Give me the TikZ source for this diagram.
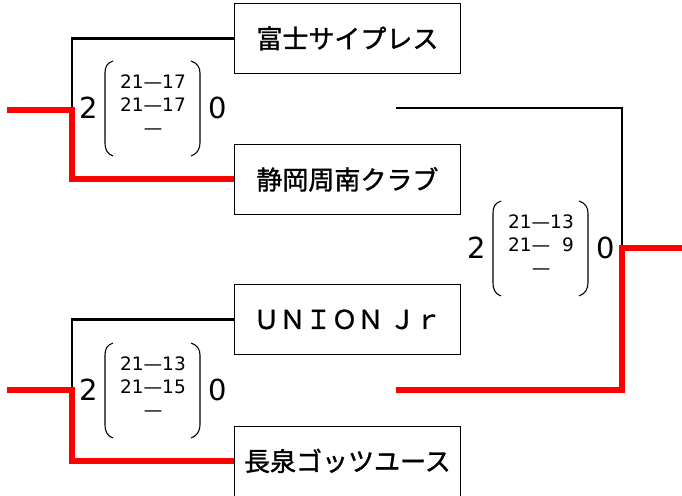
\documentclass[tikz,border=0pt]{standalone}
\usepackage{fontspec}
\setmainfont{DejaVu Sans}
\newfontfamily\jp[AutoFakeBold=1.3]{Noto Sans CJK JP}
\newcommand\scoreblock[5]{% name, x0, cy, line1, line2
  \node[big] (#1w) at (#2-16,#3) {2};
  \node[big] (#1l) at (#2+113,#3) {0};
  \node[sc] (#1s) at (#2+48,#3-3) {#4\\#5\\—};
  \draw[paren] (#2+8,#3-47) .. controls (#2+2,#3-45) and (#2,#3-41) .. (#2,#3-35)
     -- (#2,#3+35) .. controls (#2,#3+41) and (#2+2,#3+46) .. (#2+8,#3+48);
  \draw[paren] (#2+86,#3-47) .. controls (#2+92,#3-45) and (#2+95,#3-41) .. (#2+95,#3-35)
     -- (#2+95,#3+35) .. controls (#2+95,#3+41) and (#2+92,#3+46) .. (#2+86,#3+48);
}
\begin{document}
\begin{tikzpicture}[x=1pt,y=-1pt,
  team/.style={draw, line width=0.8pt, minimum width=226pt, minimum height=70pt,
    anchor=north west, inner sep=0pt, font=\jp\bfseries\fontsize{26}{26}\selectfont},
  win/.style={draw=red, line width=6pt},
  lose/.style={draw=black, line width=2.6pt},
  sc/.style={font=\fontsize{18.5}{23}\selectfont, align=center, inner sep=0pt},
  big/.style={font=\fontsize{29}{29}\selectfont, inner sep=0pt},
  paren/.style={line width=1.1pt}]
\useasboundingbox (0,0) rectangle (682,495);
\node[team] (b1) at (234,3) {富士サイプレス};
\node[team] (b2) at (234,144) {静岡周南クラブ};
\node[team] (b3) at (234,284) {ＵＮＩＯＮ Ｊｒ};
\node[team] (b4) at (234,425.5) {長泉ゴッツユース};
% first match
\coordinate (j1) at (72,110);
\coordinate (e1) at (7,110);
\draw[lose] (b1.west) -| (j1);
\draw[win] (e1) -- (j1) |- (b2.west);
% second match
\coordinate (j2) at (72,390);
\coordinate (e2) at (7,390);
\draw[lose] (b3.west) -| (j2);
\draw[win] (e2) -- (j2) |- (b4.west);
% final
\coordinate (m1) at (396,108);
\coordinate (m2) at (396,390);
\coordinate (j3) at (622,248);
\coordinate (e3) at (682,248);
\draw[lose] (m1) -| (j3);
\draw[win] (m2) -| (j3) -- (e3);
\scoreblock{s1}{105}{108}{21—17}{21—17}
\scoreblock{s2}{105}{390}{21—13}{21—15}
\scoreblock{s3}{493}{248}{21—13}{21—\hphantom{1}9}
\end{tikzpicture}
\end{document}
